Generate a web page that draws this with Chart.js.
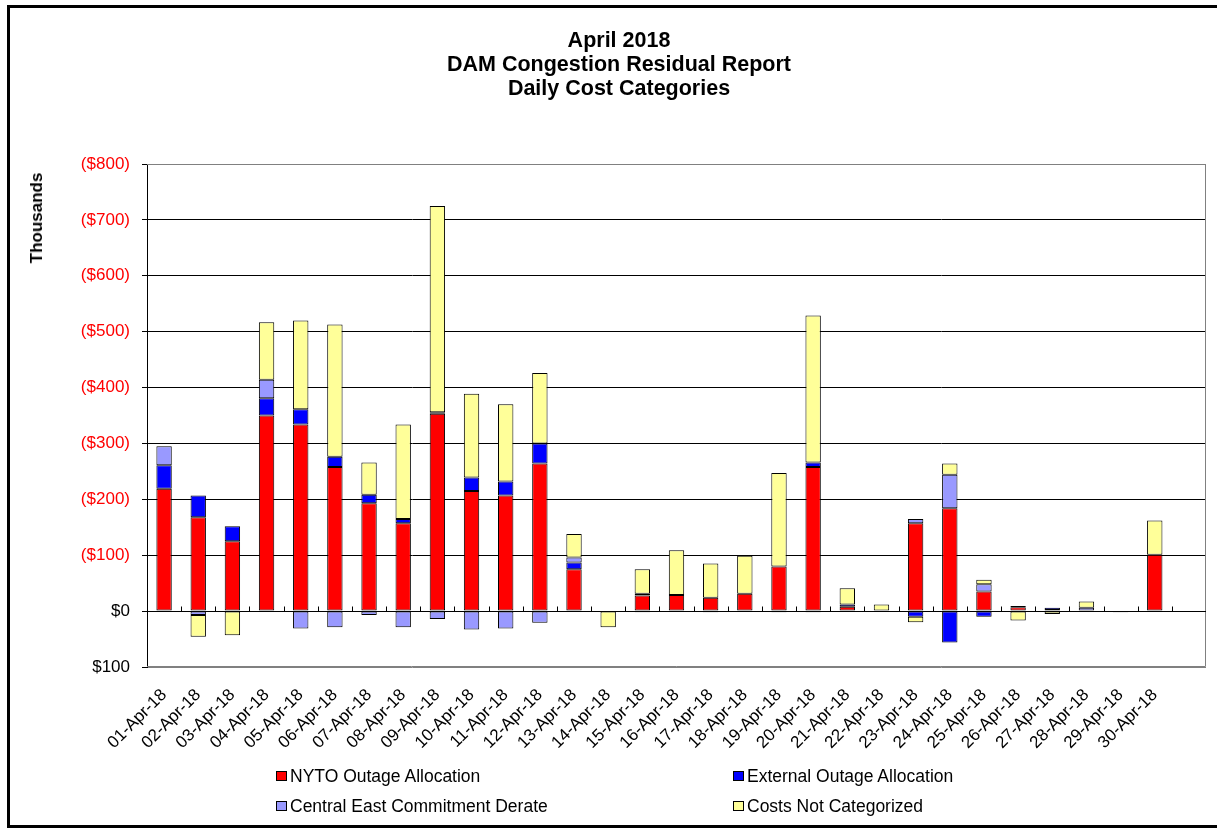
<!DOCTYPE html>
<html>
<head>
<meta charset="utf-8">
<script src="https://cdn.jsdelivr.net/npm/chart.js@4.4.1/dist/chart.umd.min.js"></script>
<style>
  body { margin: 0; background: #fff; font-family: "Liberation Sans", Arial, sans-serif; overflow: hidden; }
  #wrap { position: relative; width: 1217px; height: 828px; overflow: hidden; }
  #frame { position: absolute; left: 7px; top: 5px; width: 1400px; height: 817px;
           border: 3px solid #000; border-right: none; }
  #chart { position: absolute; left: 0; top: 0; }
  #title { position: absolute; left: 0; top: 28px; width: 1238px; text-align: center;
           font-weight: bold; font-size: 21.5px; line-height: 24px; color: #000; }
  #ytitle { position: absolute; left: 37px; top: 218px; transform: translate(-50%, -50%) rotate(-90deg);
            font-weight: bold; font-size: 17px; white-space: nowrap; }
  .leg { position: absolute; font-size: 17.5px; line-height: 20px; white-space: nowrap; }
  .leg i { position: absolute; left: -14px; top: 5px; width: 9px; height: 8px; border: 1px solid #000; }
</style>
</head>
<body>
<div id="wrap">
  <div id="frame"></div>
  <canvas id="chart" width="1217" height="828"></canvas>
  <div id="title">April 2018<br>DAM Congestion Residual Report<br>Daily Cost Categories</div>
  <div id="ytitle">Thousands</div>
  <div id="legend"></div>
</div>
<script>
// Costs in thousands of dollars; positive = cost (shown in parentheses)
const categories = ['01-Apr-18', '02-Apr-18', '03-Apr-18', '04-Apr-18', '05-Apr-18', '06-Apr-18',
    '07-Apr-18', '08-Apr-18', '09-Apr-18', '10-Apr-18', '11-Apr-18', '12-Apr-18', '13-Apr-18',
    '14-Apr-18', '15-Apr-18', '16-Apr-18', '17-Apr-18', '18-Apr-18', '19-Apr-18', '20-Apr-18',
    '21-Apr-18', '22-Apr-18', '23-Apr-18', '24-Apr-18', '25-Apr-18', '26-Apr-18', '27-Apr-18',
    '28-Apr-18', '29-Apr-18', '30-Apr-18', ''];

const nytoOutage = [219, 168, 125, 350, 334, 258, 193, 157, 353, 215, 207, 264, 75, null, 28,
    29, 24, 31, 80, 258, 8, null, 157, 184, 35, 7, 2, null, null, 101, null];
const externalOutage = [42, 39, 27, 31, 27, 18, 15, 8, 3, 24, 25, 36, 12, null, 3,
    null, null, null, null, 8, 4, null, -10, -56, -10, 2, 4, null, -2, null, null];
const centralEast = [34, -7, null, 33, -31, -29, -7, -29, -14, -33, -31, -21, 9, null, -2,
    null, -2, null, -2, -2, null, null, 8, 60, 13, null, null, 6, null, null, null];
const notCategorized = [null, -39, -43, 103, 159, 237, 58, 169, 369, 150, 138, 126, 42, -29, 44,
    80, 61, 68, 167, 263, 29, 12, -10, 20, 8, -17, -5, 11, null, 61, null];

const yTicks = { min: -100, max: 800, step: 100 };

const series = [
    { label: 'NYTO Outage Allocation', data: nytoOutage, color: '#FF0000' },
    { label: 'External Outage Allocation', data: externalOutage, color: '#0000FF' },
    { label: 'Central East Commitment Derate', data: centralEast, color: '#9999FF' },
    { label: 'Costs Not Categorized', data: notCategorized, color: '#FFFF99' }
];

// legend laid out 2 x 2 like the original
const legendPos = [[290, 766], [747, 766], [290, 796], [747, 796]];
const legendDiv = document.getElementById('legend');
series.forEach((s, i) => {
    const el = document.createElement('div');
    el.className = 'leg';
    el.style.left = legendPos[i][0] + 'px';
    el.style.top = legendPos[i][1] + 'px';
    el.innerHTML = '<i style="background:' + s.color + '"></i>' + s.label;
    legendDiv.appendChild(el);
});

function money(v) {
    if (v > 0) return '($' + v + ')';
    if (v < 0) return '$' + (-v);
    return '$0';
}

// gray plot frame plus small category ticks on the zero line
const plotExtras = {
    id: 'plotExtras',
    beforeDatasetsDraw(chart) {
        const { ctx, chartArea: a, scales: { x, y } } = chart;
        ctx.save();
        ctx.lineWidth = 1;
        ctx.strokeStyle = '#808080';
        ctx.beginPath();
        ctx.moveTo(a.left, a.top + 0.5);
        ctx.lineTo(a.right - 0.5, a.top + 0.5);
        ctx.lineTo(a.right - 0.5, a.bottom - 0.5);
        ctx.lineTo(a.left, a.bottom - 0.5);
        ctx.stroke();

        const y0 = Math.round(y.getPixelForValue(0)) + 0.5;
        ctx.strokeStyle = '#000';
        ctx.beginPath();
        ctx.moveTo(a.left, y0);
        ctx.lineTo(a.right, y0);
        for (let i = 1; i < categories.length; i++) {
            const bx = Math.round((x.getPixelForValue(i - 1) + x.getPixelForValue(i)) / 2) + 0.5;
            ctx.moveTo(bx, y0);
            ctx.lineTo(bx, y0 - 5);
        }
        ctx.stroke();
        ctx.restore();
    }
};

Chart.defaults.font.family = '"Liberation Sans", Arial, sans-serif';
Chart.defaults.color = '#000';

new Chart(document.getElementById('chart'), {
    type: 'bar',
    data: {
        labels: categories,
        datasets: series.map(s => ({
            label: s.label,
            data: s.data,
            backgroundColor: s.color,
            borderColor: '#000',
            borderWidth: 1,
            borderSkipped: false,
            barPercentage: 0.45,
            categoryPercentage: 1
        }))
    },
    options: {
        responsive: false,
        animation: false,
        layout: { padding: { top: 164, left: 0, right: 11, bottom: 0 } },
        plugins: {
            legend: { display: false },
            title: { display: false },
            tooltip: { enabled: false }
        },
        scales: {
            x: {
                stacked: true,
                afterFit: s => { s.height = 161; },
                grid: { display: false },
                border: { display: false },
                ticks: {
                    autoSkip: false,
                    minRotation: 45,
                    maxRotation: 45,
                    padding: 10,
                    font: { size: 17 }
                }
            },
            y: {
                stacked: true,
                min: yTicks.min,
                max: yTicks.max,
                afterFit: s => { s.width = 147; },
                border: { display: true, color: '#000', width: 1 },
                grid: {
                    color: c => (c.tick && (c.tick.value === yTicks.min || c.tick.value === yTicks.max)) ? '#808080' : '#000',
                    tickColor: '#000',
                    tickLength: 5
                },
                ticks: {
                    stepSize: yTicks.step,
                    padding: 12,
                    font: { size: 17 },
                    color: c => c.tick.value > 0 ? '#FF0000' : '#000',
                    callback: v => money(v)
                }
            }
        }
    },
    plugins: [plotExtras]
});
</script>
</body>
</html>
